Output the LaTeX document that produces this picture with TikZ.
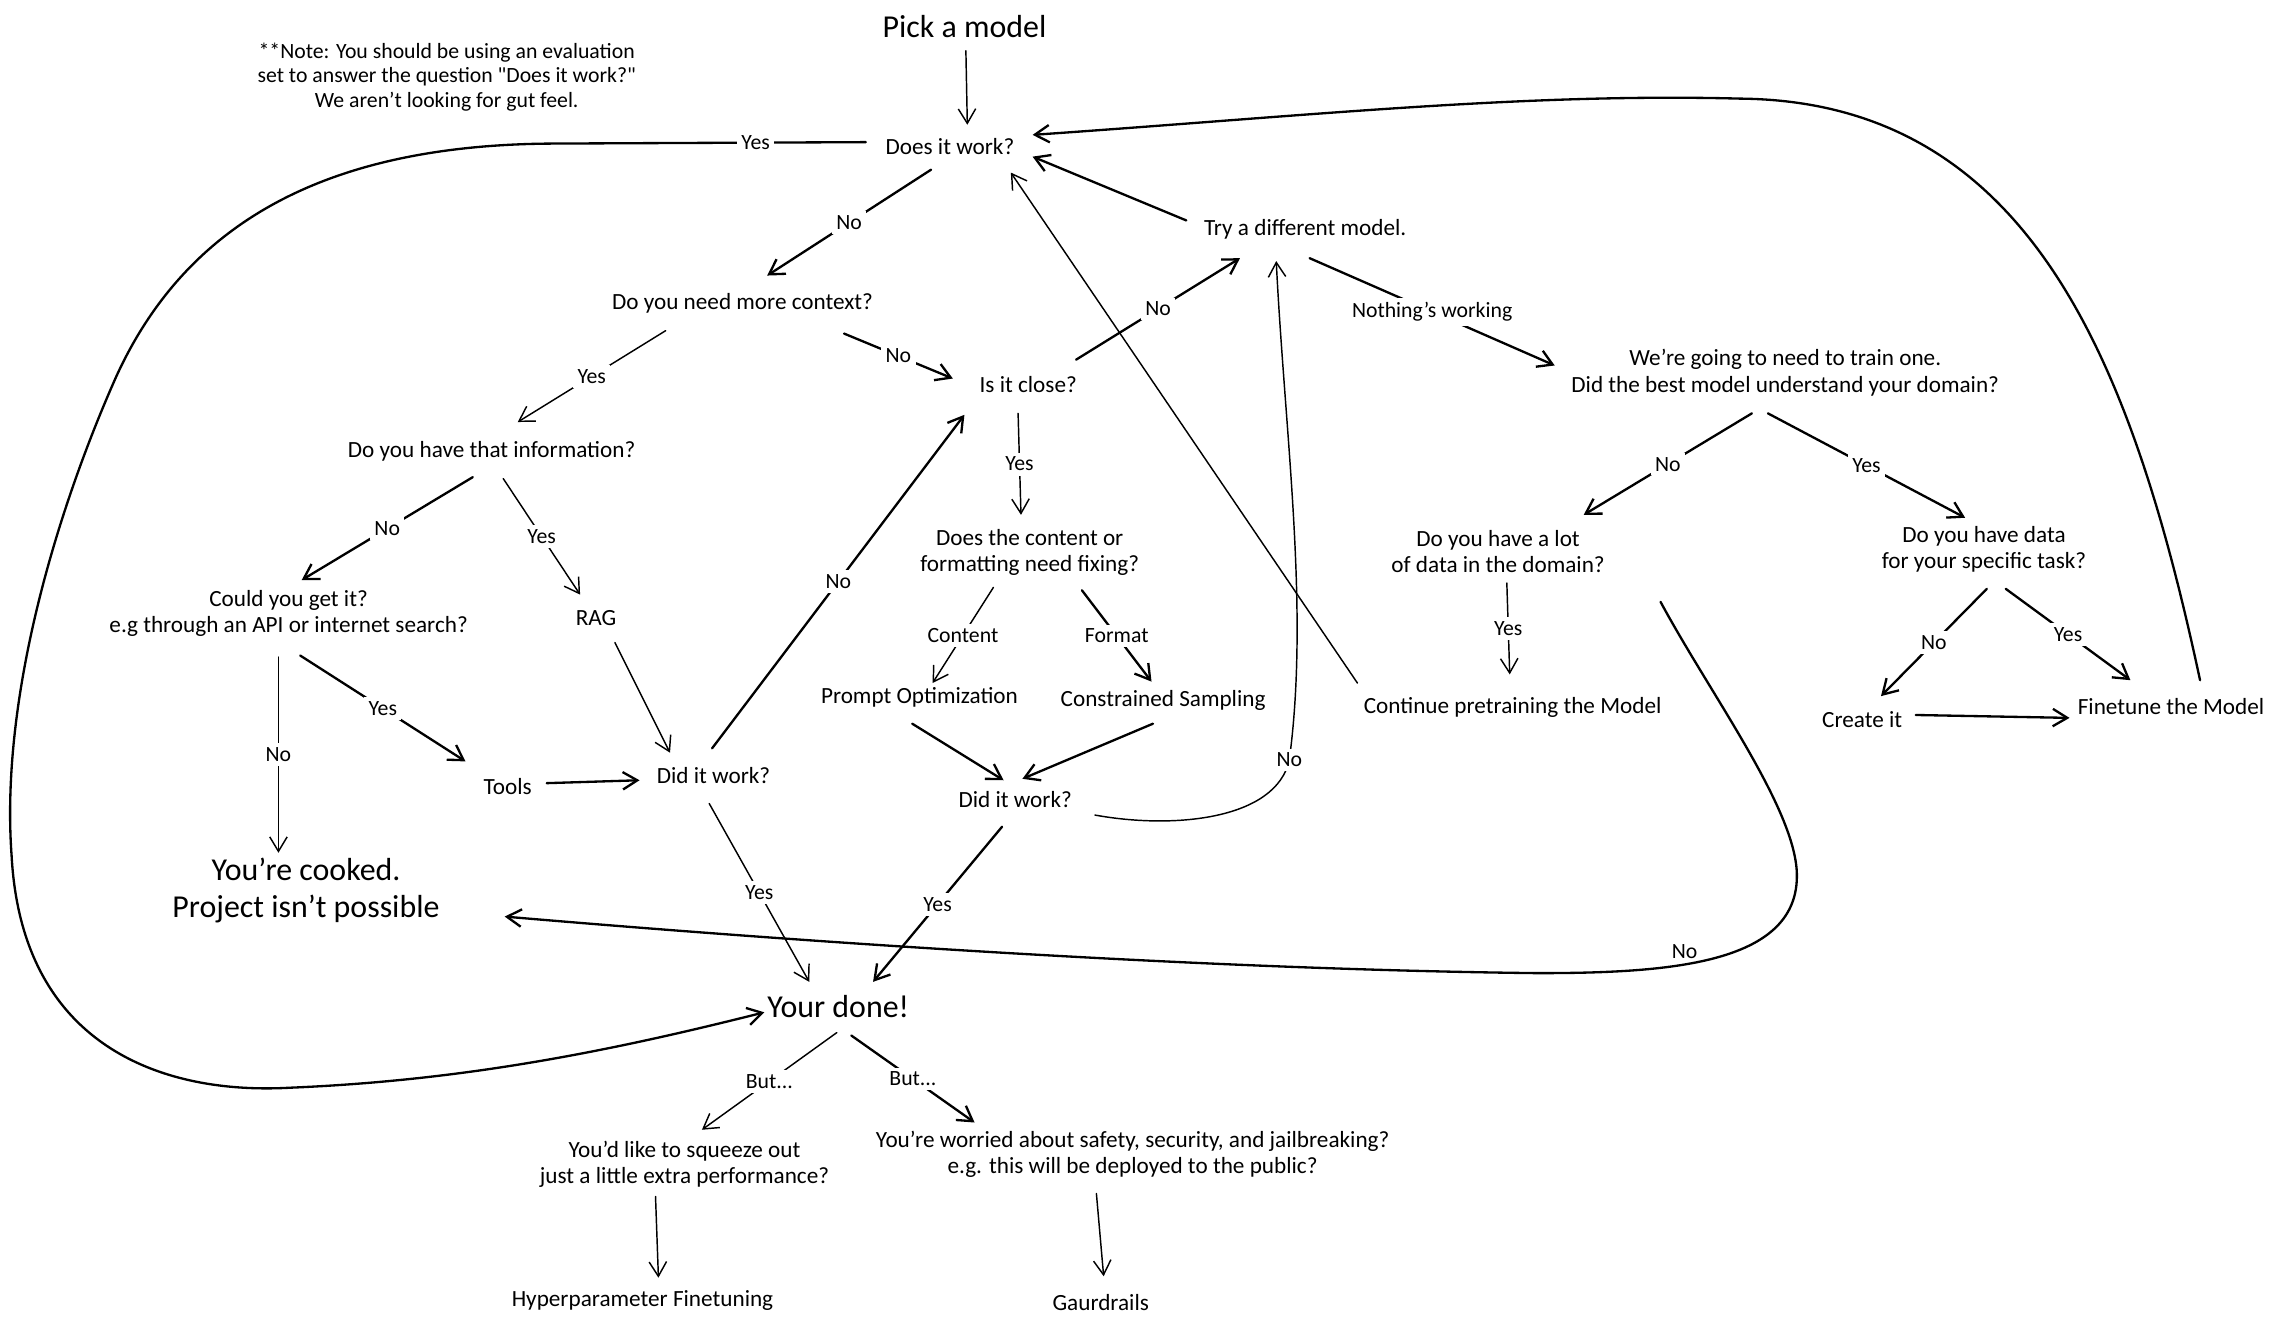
\documentclass[tikz,border=0pt]{standalone}
\usepackage{fontspec}
\setmainfont{Carlito}
\usetikzlibrary{arrows.meta,calc}

\tikzset{
  txt/.style={font=\fontsize{16}{18}\selectfont, align=center, inner sep=2pt},
  big/.style={font=\fontsize{22}{25}\selectfont, align=center, inner sep=2pt},
  lbl/.style={font=\fontsize{15}{17}\selectfont, fill=white, inner sep=3pt},
  arr/.style={-{Straight Barb[length=10pt,width=12pt]}, line width=1.6pt, line cap=round},
  thin/.style={-{Straight Barb[length=10pt,width=12pt]}, line width=1pt, line cap=round},
}

\begin{document}
\begin{tikzpicture}[x=1pt,y=-1pt]
\useasboundingbox (0,0) rectangle (1568,914);

% questions and answers
\node[big] (pick) at (665,18) {Pick a model};
\node[txt, font=\fontsize{15}{17}\selectfont] (note) at (308,53) {**Note: You should be using an evaluation\\set to answer the question \textquotedbl Does it work?\textquotedbl\\We aren't looking for gut feel.};
\node[txt] (does) at (655,101) {Does it work?};
\node[txt] (context) at (512,209) {Do you need more context?};
\node[txt] (try) at (900,158) {Try a different model.};
\node[txt] (close) at (709,265) {Is it close?};
\node[txt] (train) at (1231,257) {We're going to need to train one.\\Did the best model understand your domain?};
\node[txt] (info) at (339,311) {Do you have that information?};
\node[txt] (fixing) at (710,381) {Does the content or\\formatting need fixing?};
\node[txt] (lot) at (1033,380) {Do you have a lot\\of data in the domain?};
\node[txt] (task) at (1368,379) {Do you have data\\for your specific task?};
\node[txt] (could) at (199,423) {Could you get it?\\e.g through an API or internet search?};
\node[txt] (rag) at (411,426) {RAG};
\node[txt] (prompt) at (634,481) {Prompt Optimization};
\node[txt] (constr) at (802,483) {Constrained Sampling};
\node[txt] (cont) at (1043,488) {Continue pretraining the Model};
\node[txt] (create) at (1284,496) {Create it};
\node[txt] (fine) at (1497,487) {Finetune the Model};
\node[txt] (tools) at (350,542) {Tools};
\node[txt] (work1) at (492,535) {Did it work?};
\node[txt] (work2) at (700,551) {Did it work?};
\node[big] (cooked) at (211,614) {You're cooked.\\Project isn't possible};
\node[big] (done) at (578,694) {Your done!};
\node[txt] (squeeze) at (472,803) {You'd like to squeeze out\\just a little extra performance?};
\node[txt] (worried) at (781,796) {You're worried about safety, security, and jailbreaking?\\e.g. this will be deployed to the public?};
\node[txt] (hyper) at (443,897) {Hyperparameter Finetuning};
\node[txt] (guard) at (759,898) {Gaurdrails};

% straight arrows
\draw[thin] ($(pick)+(1,17)$) -- ($(does)+(12,-15)$);
\draw[arr] ($(does)+(-13,16)$) -- node[lbl]{No} ($(context)+(17,-19)$);
\draw[thin] ($(context)+(-53,19)$) -- node[lbl]{Yes} ($(info)+(18,-20)$);
\draw[arr] ($(context)+(70,21)$) -- node[lbl]{No} ($(close)+(-52,-4)$);
\draw[arr] ($(close)+(33,-17)$) -- node[lbl]{No} ($(try)+(-45,20)$);
\draw[arr] ($(try)+(-82,-6)$) -- ($(does)+(57,7)$);
\draw[arr] ($(try)+(3,20)$) -- node[lbl]{Nothing's working} ($(train)+(-159,-5)$);
\draw[thin] ($(close)+(-7,20)$) -- node[lbl]{Yes} ($(fixing)+(-6,-26)$);
\draw[arr] ($(info)+(-13,18)$) -- node[lbl]{No} ($(could)+(9,-23)$);
\draw[thin] ($(info)+(8,19)$) -- node[lbl]{Yes} ($(rag)+(-11,-16)$);
\draw[arr] ($(could)+(8,29)$) -- node[lbl]{Yes} ($(tools)+(-29,-17)$);
\draw[thin] ($(could)+(-7,30)$) -- node[lbl]{No} ($(cooked)+(-19,-26)$);
\draw[thin] ($(rag)+(13,17)$) -- ($(work1)+(-30,-16)$);
\draw[arr] ($(tools)+(27,-2)$) -- ($(work1)+(-51,3)$);
\draw[arr] ($(work1)+(-1,-19)$) -- node[lbl]{No} ($(close)+(-44,21)$);
\draw[thin] ($(fixing)+(-25,24)$) -- node[lbl]{Content} ($(prompt)+(9,-10)$);
\draw[arr] ($(fixing)+(36,26)$) -- node[lbl]{Format} ($(constr)+(-8,-13)$);
\draw[arr] ($(prompt)+(-5,18)$) -- ($(work2)+(-8,-13)$);
\draw[arr] ($(constr)+(-7,16)$) -- ($(work2)+(5,-14)$);
\draw[arr] ($(work2)+(-9,19)$) -- node[lbl]{Yes} ($(done)+(24,-17)$);
\draw[thin] ($(work1)+(-3,19)$) -- node[lbl]{Yes} ($(done)+(-20,-17)$);
\draw[thin] ($(cont)+(-107,-17)$) -- ($(does)+(42,18)$);
\draw[arr] ($(train)+(-23,28)$) -- node[lbl]{No} ($(lot)+(59,-25)$);
\draw[arr] ($(train)+(-12,28)$) -- node[lbl]{Yes} ($(task)+(-13,-22)$);
\draw[thin] ($(lot)+(6,22)$) -- node[lbl]{Yes} ($(cont)+(-2,-23)$);
\draw[arr] ($(task)+(2,27)$) -- node[lbl]{No} ($(create)+(13,-16)$);
\draw[arr] ($(task)+(15,27)$) -- node[lbl]{Yes} ($(fine)+(-28,-18)$);
\draw[arr] ($(create)+(37,-3)$) -- ($(fine)+(-70,8)$);
\draw[thin] ($(done)+(-1,18)$) -- node[lbl]{But...} ($(squeeze)+(12,-24)$);
\draw[arr] ($(done)+(9,20)$) -- node[lbl]{But...} ($(worried)+(-109,-22)$);
\draw[thin] ($(squeeze)+(-20,22)$) -- ($(hyper)+(11,-16)$);
\draw[thin] ($(worried)+(-25,27)$) -- ($(guard)+(2,-18)$);

% curved arrows
\draw[arr] ($(does)+(-58,-3)$) -- node[lbl,pos=0.35]{Yes} (380,99)
  .. controls (230,100) and (130,150) .. (80,260)
  .. controls (40,350) and (0,480) .. (8,590)
  .. controls (15,720) and (110,755) .. (200,750)
  .. controls (320,745) and (420,725) .. ($(done)+(-51,4)$);
\draw[thin] ($(work2)+(55,11)$) .. controls (810,572) and (880,565) .. (889,524) node[lbl]{No}
  .. controls (903,420) and (886,300) .. ($(try)+(-20,22)$);
\draw[arr] ($(fine)+(20,-18)$) .. controls (1470,250) and (1400,70) .. (1200,68)
  .. controls (1050,64) and (900,80) .. ($(does)+(57,-8)$);
\draw[arr] ($(lot)+(112,35)$) .. controls (1180,480) and (1240,560) .. (1239,605)
  .. controls (1238,665) and (1150,671) .. node[pos=0.6,above=2pt,font=\fontsize{15}{17}\selectfont,inner sep=1pt]{No} (1060,671)
  .. controls (800,668) and (500,645) .. ($(cooked)+(137,18)$);
\end{tikzpicture}
\end{document}
